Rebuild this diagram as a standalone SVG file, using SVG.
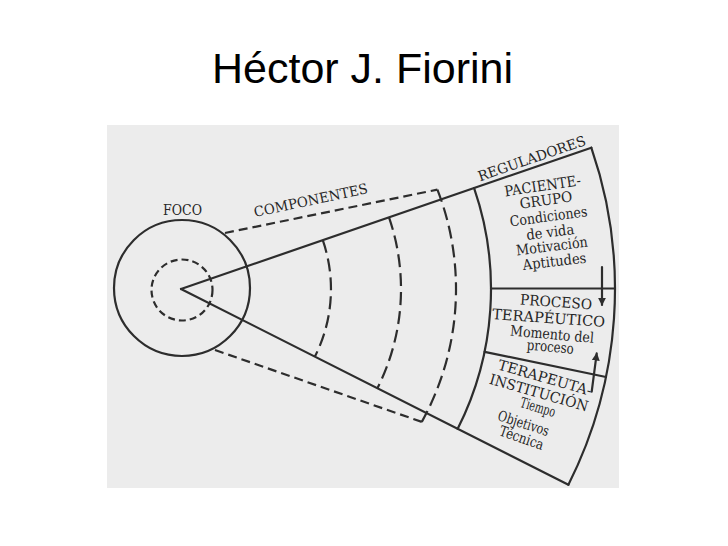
<svg xmlns="http://www.w3.org/2000/svg" width="728" height="546" viewBox="0 0 728 546">
  <style>
    .ln { fill: none; stroke: #2d2d2d; stroke-width: 2.2; stroke-linecap: round; }
    .dl { fill: none; stroke: #2d2d2d; stroke-width: 2.2; stroke-dasharray: 9 5; }
    .da { fill: none; stroke: #2d2d2d; stroke-width: 2.2; stroke-dasharray: 13 6; }
    .dc { fill: none; stroke: #2d2d2d; stroke-width: 2.2; stroke-dasharray: 7 4; }
    .t { font-family: "DejaVu Serif", "Liberation Serif", serif; fill: #262626; text-anchor: middle; }
    .cap { font-size: 14px; }
    .body { font-size: 14.5px; }
    .title { font-family: "Liberation Sans", Arial, sans-serif; font-size: 43px; fill: #000; }
  </style>
  <defs>
    <marker id="ah" viewBox="0 0 10 10" refX="9" refY="5" markerWidth="8" markerHeight="8" markerUnits="userSpaceOnUse" orient="auto">
      <path d="M0,0 L10,5 L0,10 Z" fill="#2d2d2d"/>
    </marker>
  </defs>
  <rect width="728" height="546" fill="#ffffff"/>
  <text id="title" class="title" x="212" y="83">Héctor J. Fiorini</text>
  <rect x="107" y="125" width="512" height="363" fill="#ececec"/>

  <g id="foco">
    <circle class="ln" cx="182" cy="288" r="68"/>
    <circle class="dc" cx="182" cy="290" r="30.5"/>
    <text class="t cap" x="182.5" y="215" textLength="39" lengthAdjust="spacingAndGlyphs">FOCO</text>
  </g>

  <g id="componentes">
    <path class="dl" d="M225,233 L437.4,189.6"/>
    <path class="dl" d="M215,350 L421.8,421.9"/>
    <path class="da" d="M437.4,189.6 A275,275 0 0 1 421.8,421.9"/>
    <path class="da" d="M322.8,240.2 A150,150 0 0 1 314.9,356.6"/>
    <path class="da" d="M389,217.4 A220,220 0 0 1 377.4,388.2"/>
    <text class="t cap" transform="translate(311.7,205) rotate(-12)" textLength="116" lengthAdjust="spacingAndGlyphs">COMPONENTES</text>
  </g>

  <g id="connectors">
    <path class="ln" d="M181,289 L591.3,147.7"/>
    <path class="ln" d="M181,289 L568.4,484.7"/>
  </g>

  <g id="reguladores">
    <path class="ln" d="M591.3,147.7 A434,434 0 0 1 568.4,484.7"/>
    <path class="ln" d="M474.1,188.1 A310,310 0 0 1 457.7,428.8"/>
    <path class="ln" d="M491,288.5 L615,288.5"/>
    <path class="ln" d="M484.6,351.9 L606,377"/>
    <text class="t cap" transform="translate(533.3,163) rotate(-19)" textLength="113" lengthAdjust="spacingAndGlyphs">REGULADORES</text>
  </g>

  <g id="paciente-grupo">
    <g class="t body">
      <text transform="translate(543.3,190.7) rotate(-8.5)" textLength="77" lengthAdjust="spacingAndGlyphs">PACIENTE-</text>
      <text transform="translate(546.7,205) rotate(-8)" textLength="53" lengthAdjust="spacingAndGlyphs">GRUPO</text>
      <text transform="translate(549.2,221.3) rotate(-7.5)" textLength="78" lengthAdjust="spacingAndGlyphs">Condiciones</text>
      <text transform="translate(550.8,237) rotate(-7)" textLength="48" lengthAdjust="spacingAndGlyphs">de vida</text>
      <text transform="translate(552.5,251) rotate(-7)" textLength="72" lengthAdjust="spacingAndGlyphs">Motivación</text>
      <text transform="translate(555,266.3) rotate(-6.5)" textLength="64" lengthAdjust="spacingAndGlyphs">Aptitudes</text>
    </g>
  </g>

  <g id="proceso">
    <g class="t body">
      <text transform="translate(555.7,307) rotate(4)" textLength="72" lengthAdjust="spacingAndGlyphs">PROCESO</text>
      <text transform="translate(548.3,323) rotate(4)" textLength="113" lengthAdjust="spacingAndGlyphs">TERAPÉUTICO</text>
      <text transform="translate(551.7,339.2) rotate(5)" textLength="84" lengthAdjust="spacingAndGlyphs">Momento del</text>
      <text transform="translate(550,351.7) rotate(5)" textLength="47" lengthAdjust="spacingAndGlyphs">proceso</text>
    </g>
  </g>

  <g id="terapeuta-institucion">
    <g class="t body">
      <text transform="translate(543.7,382.5) rotate(16)" textLength="97" lengthAdjust="spacingAndGlyphs">TERAPEUTA-</text>
      <text transform="translate(537.5,397.5) rotate(16)" textLength="102" lengthAdjust="spacingAndGlyphs">INSTITUCIÓN</text>
      <text transform="translate(536.5,412) rotate(17)" textLength="36" lengthAdjust="spacingAndGlyphs">Tiempo</text>
      <text transform="translate(522,428) rotate(18)" textLength="53" lengthAdjust="spacingAndGlyphs">Objetivos</text>
      <text transform="translate(520,442.5) rotate(19)" textLength="46" lengthAdjust="spacingAndGlyphs">Técnica</text>
    </g>
  </g>

  <g id="arrows">
    <path class="ln" d="M602,267 L602,305" marker-end="url(#ah)"/>
    <path class="ln" d="M591.7,391.7 L596.7,353.3" marker-end="url(#ah)"/>
  </g>
</svg>
